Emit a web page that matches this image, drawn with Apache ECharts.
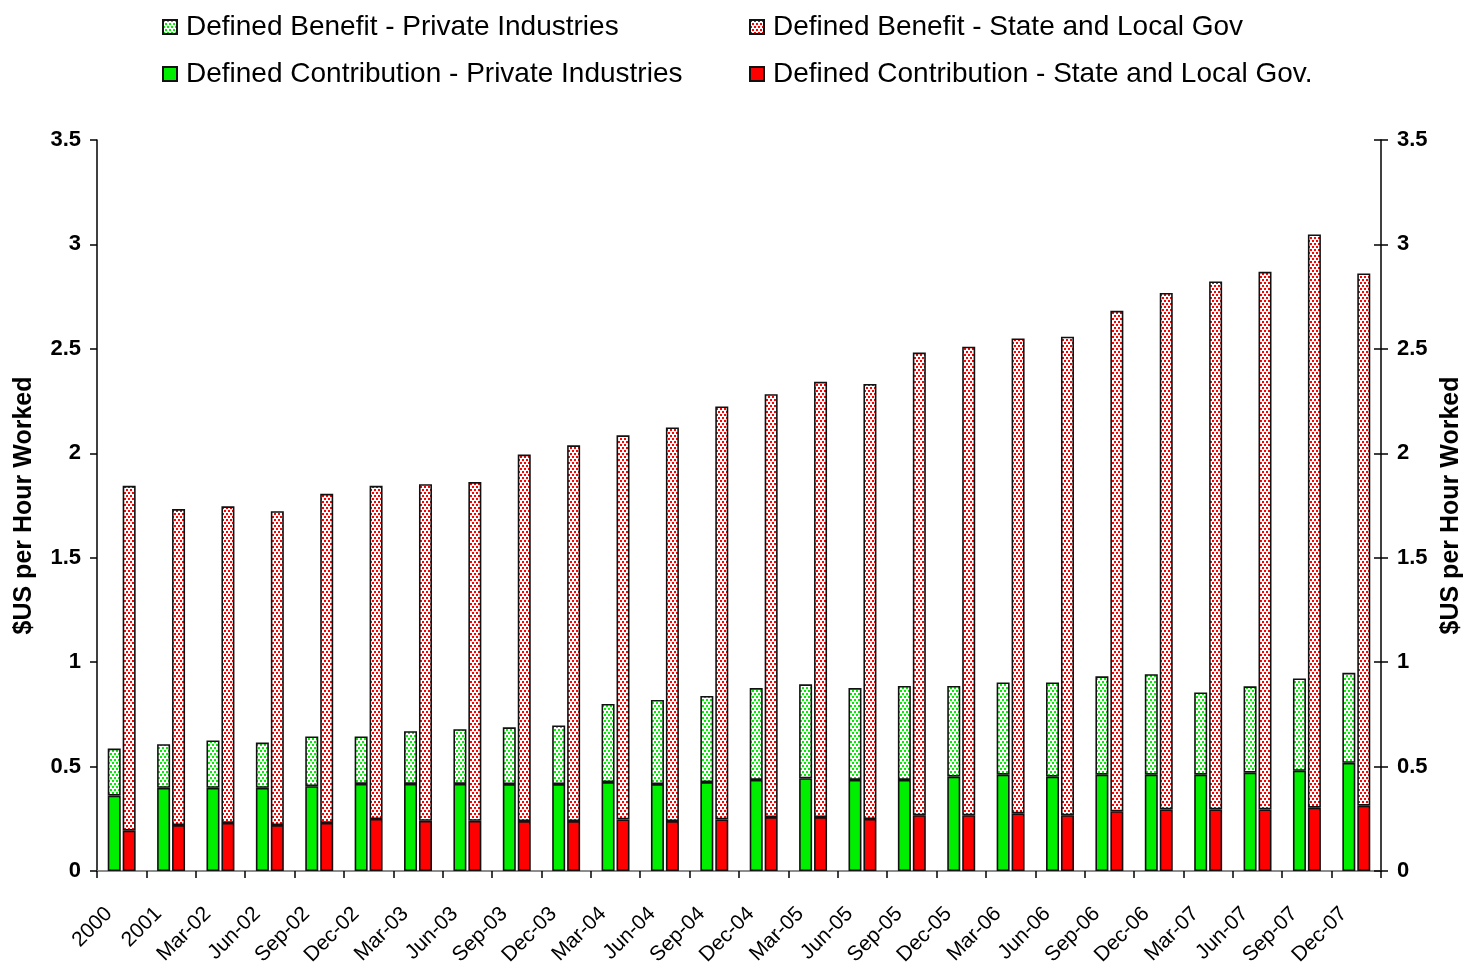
<!DOCTYPE html>
<html>
<head>
<meta charset="utf-8">
<title>Pension costs per hour worked</title>
<script src="https://cdn.jsdelivr.net/npm/echarts@6/dist/echarts.min.js"></script>
<style>
  html, body { margin: 0; padding: 0; background: #fff; }
  #chart { width: 1474px; height: 970px; }
</style>
</head>
<body>
<div id="chart"></div>
<script>
// Periods on the category axis
const periods = ['2000', '2001', 'Mar-02', 'Jun-02', 'Sep-02', 'Dec-02', 'Mar-03', 'Jun-03',
  'Sep-03', 'Dec-03', 'Mar-04', 'Jun-04', 'Sep-04', 'Dec-04', 'Mar-05', 'Jun-05', 'Sep-05',
  'Dec-05', 'Mar-06', 'Jun-06', 'Sep-06', 'Dec-06', 'Mar-07', 'Jun-07', 'Sep-07', 'Dec-07'];

// Private industries ($US per hour worked)
const dcPrivate = [0.361, 0.398, 0.398, 0.398, 0.406, 0.417, 0.417, 0.417, 0.416, 0.416, 0.426, 0.416, 0.426,
  0.436, 0.444, 0.436, 0.436, 0.452, 0.461, 0.452, 0.461, 0.461, 0.461, 0.471, 0.480, 0.518];
const dbPrivate = [0.225, 0.209, 0.227, 0.217, 0.238, 0.227, 0.252, 0.262, 0.272, 0.281, 0.374, 0.403, 0.412,
  0.440, 0.450, 0.440, 0.450, 0.434, 0.442, 0.451, 0.471, 0.481, 0.394, 0.413, 0.442, 0.431];

// State and local government ($US per hour worked)
const dcGov = [0.193, 0.220, 0.230, 0.220, 0.230, 0.249, 0.240, 0.240, 0.239, 0.239, 0.247, 0.239, 0.247,
  0.258, 0.258, 0.249, 0.267, 0.267, 0.276, 0.267, 0.286, 0.295, 0.295, 0.295, 0.303, 0.313];
const dbGov = [1.651, 1.513, 1.516, 1.503, 1.576, 1.595, 1.612, 1.622, 1.755, 1.799, 1.839, 1.885, 1.977,
  2.025, 2.084, 2.083, 2.215, 2.243, 2.274, 2.291, 2.396, 2.473, 2.528, 2.574, 2.745, 2.548];

const seriesNames = {
  dbPriv: 'Defined Benefit - Private Industries',
  dcPriv: 'Defined Contribution - Private Industries',
  dbGov: 'Defined Benefit - State and Local Gov',
  dcGov: 'Defined Contribution - State and Local Gov.'
};

// Small dotted tile: white ground with staggered 2px squares
function dotTile(color) {
  const c = document.createElement('canvas');
  c.width = 4; c.height = 6;
  const g = c.getContext('2d');
  g.fillStyle = '#ffffff';
  g.fillRect(0, 0, 4, 6);
  g.fillStyle = color;
  g.fillRect(0, 0, 2, 2);
  g.fillRect(2, 3, 2, 2);
  return { image: c, repeat: 'repeat' };
}

const GREEN = '#00ee00';
const RED = '#ff0000';
const FONT = "'Liberation Sans', Arial, sans-serif";
const border = { borderColor: '#111', borderWidth: 1.6 };

const chart = echarts.init(document.getElementById('chart'), null, { renderer: 'canvas' });

const axisLabelY = { color: '#000', fontSize: 22, fontWeight: 'bold', fontFamily: FONT };
const yName = '$US per Hour Worked';
const legendText = { color: '#000', fontSize: 28, fontFamily: FONT, lineHeight: 30, padding: [0, 0, 0, 4] };

chart.setOption({
  animation: false,
  backgroundColor: '#fff',
  legend: [
    {
      left: 157, top: 7, orient: 'vertical', itemWidth: 14, itemHeight: 14, itemGap: 17,
      icon: 'rect', textStyle: legendText,
      data: [seriesNames.dbPriv, seriesNames.dcPriv]
    },
    {
      left: 744, top: 7, orient: 'vertical', itemWidth: 14, itemHeight: 14, itemGap: 17,
      icon: 'rect', textStyle: legendText,
      data: [seriesNames.dbGov, seriesNames.dcGov]
    }
  ],
  grid: { left: 97, right: 93, top: 140, bottom: 99, containLabel: false, outerBoundsMode: 'none' },
  xAxis: [
    {
      type: 'category', data: periods, position: 'bottom',
      axisLine: { lineStyle: { color: '#000', width: 1.5 } },
      axisTick: { show: true, length: 7, lineStyle: { color: '#000', width: 1.5 } },
      axisLabel: {
        rotate: 45, margin: 27, padding: [0, 18, 0, 0], interval: 0,
        color: '#000', fontSize: 21, fontFamily: FONT
      }
    },
    {
      type: 'category', data: periods, position: 'top',
      axisLine: { lineStyle: { color: '#a8a8a8', width: 1.5 } },
      axisTick: { show: false }, axisLabel: { show: false }
    }
  ],
  yAxis: [
    {
      type: 'value', min: 0, max: 3.5, interval: 0.5, position: 'left',
      name: yName, nameLocation: 'middle', nameGap: 60, nameRotate: 90,
      nameTextStyle: { color: '#000', fontSize: 25, fontWeight: 'bold', fontFamily: FONT },
      axisLine: { show: true, lineStyle: { color: '#000', width: 1.5 } },
      axisTick: { show: true, length: 7, lineStyle: { color: '#000', width: 1.5 } },
      axisLabel: Object.assign({ margin: 16 }, axisLabelY),
      splitLine: { show: false }
    },
    {
      type: 'value', min: 0, max: 3.5, interval: 0.5, position: 'right',
      name: yName, nameLocation: 'middle', nameGap: 56, nameRotate: 90,
      nameTextStyle: { color: '#000', fontSize: 25, fontWeight: 'bold', fontFamily: FONT },
      axisLine: { show: true, lineStyle: { color: '#000', width: 1.5 } },
      axisTick: { show: true, length: 7, lineStyle: { color: '#000', width: 1.5 } },
      axisLabel: Object.assign({ margin: 16 }, axisLabelY),
      splitLine: { show: false }
    },
    {
      // inner half of the cross ticks on the right-hand axis
      type: 'value', min: 0, max: 3.5, interval: 0.5, position: 'right',
      axisLine: { show: false },
      axisTick: { show: true, inside: true, length: 7, lineStyle: { color: '#000', width: 1.5 } },
      axisLabel: { show: false },
      splitLine: { show: false }
    }
  ],
  series: [
    {
      name: seriesNames.dcPriv, type: 'bar', stack: 'private', data: dcPrivate,
      barWidth: 13, barGap: '15%',
      itemStyle: Object.assign({ color: GREEN }, border)
    },
    {
      name: seriesNames.dbPriv, type: 'bar', stack: 'private', data: dbPrivate,
      barWidth: 13, barGap: '15%',
      itemStyle: Object.assign({ color: dotTile(GREEN) }, border)
    },
    {
      name: seriesNames.dcGov, type: 'bar', stack: 'gov', data: dcGov,
      barWidth: 13, barGap: '15%',
      itemStyle: Object.assign({ color: RED }, border)
    },
    {
      name: seriesNames.dbGov, type: 'bar', stack: 'gov', data: dbGov,
      barWidth: 13, barGap: '15%',
      itemStyle: Object.assign({ color: dotTile(RED) }, border)
    }
  ]
});
</script>
</body>
</html>
